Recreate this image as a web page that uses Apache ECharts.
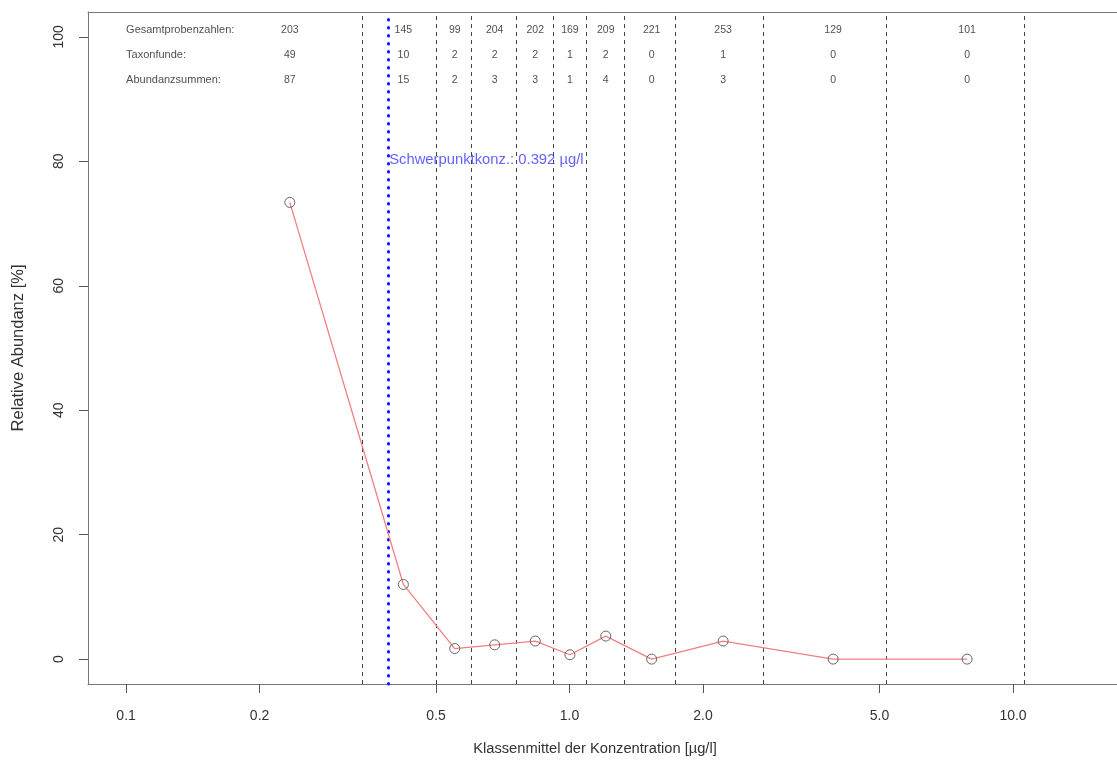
<!DOCTYPE html>
<html>
<head>
<meta charset="utf-8">
<script src="https://cdn.jsdelivr.net/npm/echarts@6/dist/echarts.min.js"></script>
<style>html,body{margin:0;padding:0;background:#fff}#c{width:1117px;height:763px}</style>
</head>
<body>
<div id="c"></div>
<script>
// Class midpoints (µg/l) and relative abundance (%)
var classMid = [0.234, 0.422, 0.551, 0.678, 0.837, 1.002, 1.207, 1.532, 2.22, 3.93, 7.88];
var relAbund = [73.4, 12.0, 1.7, 2.3, 2.9, 0.7, 3.7, 0.0, 2.9, 0.0, 0.0];
// Class boundaries (µg/l)
var classBounds = [0.343, 0.503, 0.600, 0.758, 0.919, 1.089, 1.332, 1.729, 2.734, 5.19, 10.6];
// Table rows above the plot
var rowLabels = ['Gesamtprobenzahlen:', 'Taxonfunde:', 'Abundanzsummen:'];
var rowY = [101.1, 97.1, 93.1];
var gesamtproben = [203, 145, 99, 204, 202, 169, 209, 221, 253, 129, 101];
var taxonfunde = [49, 10, 2, 2, 2, 1, 2, 0, 1, 0, 0];
var abundanzsummen = [87, 15, 2, 3, 3, 1, 4, 0, 3, 0, 0];
// Centroid concentration
var schwerpunkt = 0.392;
var schwerpunktLabelY = 80.2;
// Tick labels
var xTicks = [0.1, 0.2, 0.5, 1, 2, 5, 10];
var yTicks = [0, 20, 40, 60, 80, 100];

var FONT = '"Liberation Sans", Arial, sans-serif';
var XMIN = 0.08206, XMAX = 17.16;
var chart = echarts.init(document.getElementById('c'), null, {renderer: 'canvas'});

function textRow(values, y, name) {
  return {
    type: 'scatter', name: name, symbolSize: 0, silent: true,
    data: classMid.map(function (x, i) { return [x, y, values[i]]; }),
    label: {show: true, position: 'inside', formatter: function (p) { return String(p.value[2]); },
      color: '#222', fontSize: 10.5, fontFamily: FONT}
  };
}

var option = {
  animation: false,
  backgroundColor: '#fff',
  grid: {left: 88, top: 12, right: 0, height: 672, show: false},
  xAxis: [{
    type: 'log', logBase: 10, min: XMIN, max: XMAX,
    axisLine: {show: true, onZero: false, lineStyle: {color: '#777', width: 1}},
    splitLine: {show: false},
    minorTick: {show: false},
    axisTick: {show: true, inside: false, length: 9, lineStyle: {color: '#555'}, customValues: xTicks},
    axisLabel: {customValues: xTicks, margin: 25, fontSize: 14, color: '#333', fontFamily: FONT,
      formatter: function (v) { return Number(v).toFixed(1); }}
  }, {
    type: 'log', logBase: 10, min: XMIN, max: XMAX, position: 'top',
    axisLine: {show: true, onZero: false, lineStyle: {color: '#777', width: 1}},
    splitLine: {show: false}, minorTick: {show: false},
    axisTick: {show: false}, axisLabel: {show: false}
  }],
  yAxis: {
    type: 'value', min: -4, max: 104,
    name: 'Relative Abundanz [%]', nameLocation: 'middle', nameGap: 61, nameRotate: 90,
    nameTextStyle: {fontSize: 16.5, color: '#333', fontFamily: FONT},
    axisLine: {show: true, onZero: false, lineStyle: {color: '#777', width: 1}},
    splitLine: {show: false},
    axisTick: {show: true, length: 9, lineStyle: {color: '#555'}, customValues: yTicks},
    axisLabel: {customValues: yTicks, rotate: 90, margin: 22, fontSize: 14, color: '#333', fontFamily: FONT}
  },
  graphic: [{
    type: 'text', x: 595, y: 741,
    style: {text: 'Klassenmittel der Konzentration [µg/l]', fill: '#333', font: '14.7px ' + FONT, textAlign: 'center'}
  }],
  series: [
    {
      type: 'line', name: 'bounds', data: [], silent: true,
      markLine: {
        silent: true, symbol: 'none', label: {show: false},
        lineStyle: {color: '#444', width: 1, type: [4, 4]},
        data: classBounds.map(function (b) { return {xAxis: b}; })
      }
    },
    {
      type: 'line', name: 'schwerpunkt', data: [], silent: true,
      markLine: {
        silent: true, symbol: 'none', label: {show: false},
        lineStyle: {color: '#1515ff', width: 3, type: [0.5, 7.5], cap: 'round'},
        data: [{xAxis: schwerpunkt}]
      }
    },
    {
      type: 'line', name: 'Relative Abundanz',
      data: classMid.map(function (x, i) { return [x, relAbund[i]]; }),
      symbol: 'circle', symbolSize: 10,
      lineStyle: {color: '#f28080', width: 1.3},
      itemStyle: {color: 'rgba(255,255,255,0)', borderColor: '#666', borderWidth: 1},
      z: 5
    },
    textRow(gesamtproben, rowY[0], 'g'),
    textRow(taxonfunde, rowY[1], 't'),
    textRow(abundanzsummen, rowY[2], 'a'),
    {
      type: 'scatter', name: 'rowlabels', symbolSize: 0, silent: true,
      data: rowLabels.map(function (t, i) { return [0.1, rowY[i], t]; }),
      label: {show: true, position: [0, 0], align: 'left', verticalAlign: 'middle',
        formatter: function (p) { return p.value[2]; }, color: '#222', fontSize: 11, fontFamily: FONT}
    },
    {
      type: 'scatter', name: 'sp', symbolSize: 0, silent: true,
      data: [[schwerpunkt, schwerpunktLabelY]],
      label: {show: true, position: [0, 0], align: 'left', verticalAlign: 'middle',
        formatter: 'Schwerpunktkonz.: ' + schwerpunkt + ' µg/l', color: '#3a3aff', fontSize: 14.8, fontFamily: FONT}
    }
  ]
};
chart.setOption(option);
</script>
</body>
</html>
